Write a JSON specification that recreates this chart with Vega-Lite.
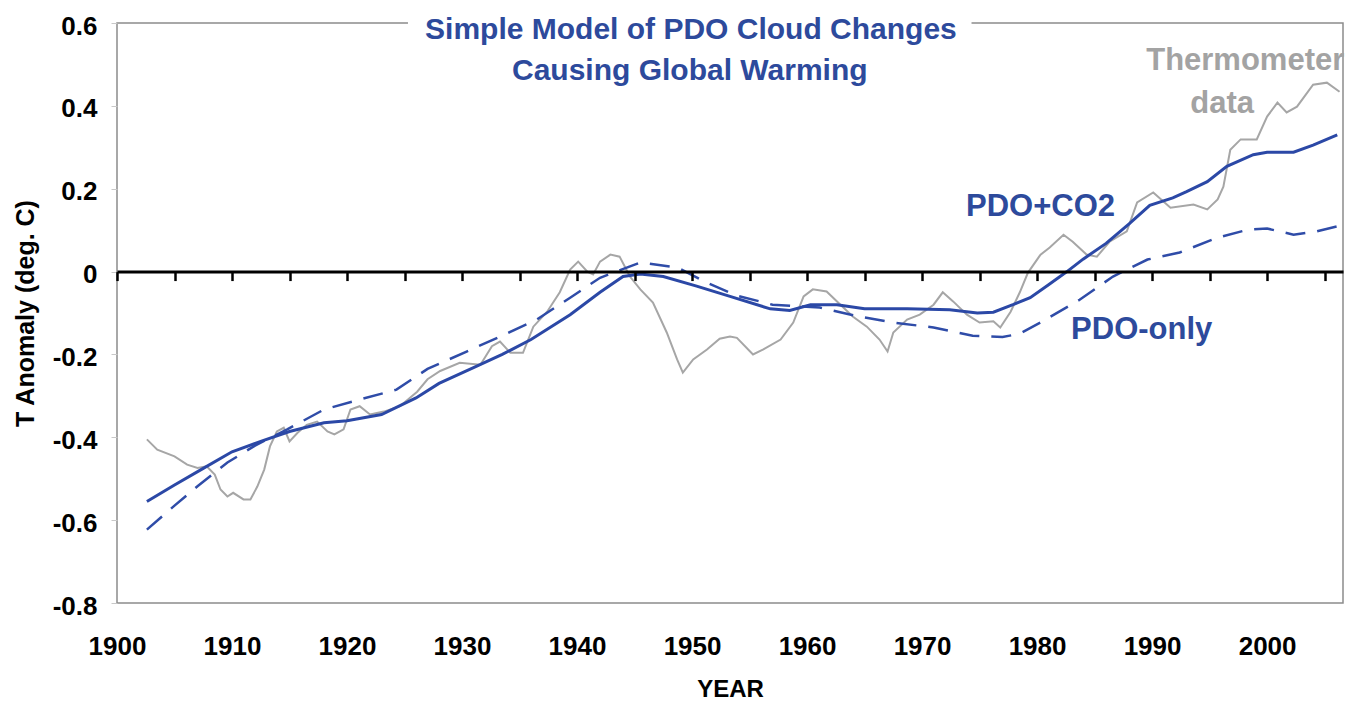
{
  "$schema": "https://vega.github.io/schema/vega-lite/v6.json",
  "width": 1226,
  "height": 580,
  "autosize": {"type": "none"},
  "padding": {"left": 117, "top": 23, "right": 12, "bottom": 103},
  "background": "white",
  "config": {"view": {"stroke": "#8c8c8c", "strokeWidth": 1.5}, "font": "Liberation Sans"},
  "datasets": {
    "thermo": [
      {"year": 1902.6, "t": -0.405}, {"year": 1903.5, "t": -0.43}, {"year": 1905, "t": -0.446}, {"year": 1906.1, "t": -0.466},
      {"year": 1907, "t": -0.474}, {"year": 1907.8, "t": -0.47}, {"year": 1908.5, "t": -0.49}, {"year": 1909, "t": -0.526},
      {"year": 1909.6, "t": -0.543}, {"year": 1910.1, "t": -0.534}, {"year": 1911, "t": -0.55}, {"year": 1911.6, "t": -0.55},
      {"year": 1912.2, "t": -0.519}, {"year": 1912.8, "t": -0.478}, {"year": 1913.3, "t": -0.422}, {"year": 1913.9, "t": -0.386},
      {"year": 1914.5, "t": -0.377}, {"year": 1915, "t": -0.41}, {"year": 1915.7, "t": -0.389}, {"year": 1916.5, "t": -0.37},
      {"year": 1917.4, "t": -0.362}, {"year": 1918.3, "t": -0.386}, {"year": 1918.9, "t": -0.393}, {"year": 1919.7, "t": -0.381},
      {"year": 1920.3, "t": -0.333}, {"year": 1921.1, "t": -0.325}, {"year": 1922, "t": -0.345}, {"year": 1923.2, "t": -0.338},
      {"year": 1924.6, "t": -0.325}, {"year": 1926.1, "t": -0.29}, {"year": 1927, "t": -0.26}, {"year": 1928.1, "t": -0.24},
      {"year": 1929.8, "t": -0.22}, {"year": 1931.6, "t": -0.225}, {"year": 1932.6, "t": -0.18}, {"year": 1933.3, "t": -0.169},
      {"year": 1934.2, "t": -0.196}, {"year": 1935.3, "t": -0.196}, {"year": 1936.2, "t": -0.133}, {"year": 1937.4, "t": -0.097},
      {"year": 1938.5, "t": -0.05}, {"year": 1939.4, "t": 0.005}, {"year": 1940.1, "t": 0.024}, {"year": 1940.9, "t": 0.0},
      {"year": 1941.4, "t": -0.007}, {"year": 1942, "t": 0.024}, {"year": 1942.9, "t": 0.041}, {"year": 1943.7, "t": 0.036},
      {"year": 1944.6, "t": -0.012}, {"year": 1945.5, "t": -0.043}, {"year": 1946.6, "t": -0.075}, {"year": 1947.8, "t": -0.147},
      {"year": 1948.7, "t": -0.212}, {"year": 1949.2, "t": -0.244}, {"year": 1950.1, "t": -0.212}, {"year": 1951.3, "t": -0.188},
      {"year": 1952.4, "t": -0.162}, {"year": 1953.3, "t": -0.157}, {"year": 1953.9, "t": -0.16}, {"year": 1955.3, "t": -0.2},
      {"year": 1956.2, "t": -0.188}, {"year": 1957.7, "t": -0.164}, {"year": 1958.8, "t": -0.123}, {"year": 1959.7, "t": -0.06},
      {"year": 1960.5, "t": -0.043}, {"year": 1961.7, "t": -0.048}, {"year": 1962.9, "t": -0.08}, {"year": 1964, "t": -0.109},
      {"year": 1965.2, "t": -0.133}, {"year": 1966.3, "t": -0.164}, {"year": 1967, "t": -0.193}, {"year": 1967.5, "t": -0.147},
      {"year": 1968.7, "t": -0.116}, {"year": 1969.8, "t": -0.104}, {"year": 1971, "t": -0.08}, {"year": 1971.8, "t": -0.05},
      {"year": 1972.7, "t": -0.072}, {"year": 1973.9, "t": -0.104}, {"year": 1975, "t": -0.123}, {"year": 1976.2, "t": -0.12},
      {"year": 1976.8, "t": -0.135}, {"year": 1977.7, "t": -0.097}, {"year": 1978.5, "t": -0.05}, {"year": 1979.2, "t": -0.003},
      {"year": 1980.3, "t": 0.041}, {"year": 1981.1, "t": 0.058}, {"year": 1982.3, "t": 0.089}, {"year": 1983.1, "t": 0.072},
      {"year": 1984.3, "t": 0.041}, {"year": 1985.2, "t": 0.036}, {"year": 1986.3, "t": 0.072}, {"year": 1987.8, "t": 0.097},
      {"year": 1988.7, "t": 0.167}, {"year": 1990.1, "t": 0.191}, {"year": 1991.6, "t": 0.154}, {"year": 1993.6, "t": 0.162},
      {"year": 1994.8, "t": 0.15}, {"year": 1995.7, "t": 0.174}, {"year": 1996.2, "t": 0.205}, {"year": 1996.8, "t": 0.294},
      {"year": 1997.7, "t": 0.319}, {"year": 1999.1, "t": 0.319}, {"year": 2000, "t": 0.374}, {"year": 2000.9, "t": 0.408},
      {"year": 2001.7, "t": 0.384}, {"year": 2002.6, "t": 0.398}, {"year": 2004, "t": 0.451}, {"year": 2005.2, "t": 0.456},
      {"year": 2006.3, "t": 0.434}
    ],
    "pdo": [
      {"year": 1902.6, "t": -0.623}, {"year": 1905, "t": -0.565}, {"year": 1907, "t": -0.518}, {"year": 1909.6, "t": -0.461},
      {"year": 1912, "t": -0.42}, {"year": 1914.8, "t": -0.381}, {"year": 1918, "t": -0.333}, {"year": 1921.1, "t": -0.309},
      {"year": 1924.3, "t": -0.285}, {"year": 1927, "t": -0.235}, {"year": 1930.4, "t": -0.193}, {"year": 1933.3, "t": -0.157},
      {"year": 1936.5, "t": -0.116}, {"year": 1939.4, "t": -0.063}, {"year": 1942, "t": -0.015}, {"year": 1945.5, "t": 0.022},
      {"year": 1948.7, "t": 0.01}, {"year": 1951.3, "t": -0.027}, {"year": 1953.9, "t": -0.058}, {"year": 1957, "t": -0.08},
      {"year": 1961.1, "t": -0.087}, {"year": 1964.6, "t": -0.109}, {"year": 1967.5, "t": -0.123}, {"year": 1971, "t": -0.135},
      {"year": 1974.4, "t": -0.155}, {"year": 1977, "t": -0.158}, {"year": 1978.5, "t": -0.15}, {"year": 1980.3, "t": -0.123},
      {"year": 1983.7, "t": -0.068}, {"year": 1986.6, "t": -0.012}, {"year": 1989.6, "t": 0.029}, {"year": 1992.4, "t": 0.046},
      {"year": 1995.7, "t": 0.082}, {"year": 1998.3, "t": 0.101}, {"year": 2000, "t": 0.104}, {"year": 2002.3, "t": 0.089},
      {"year": 2004.3, "t": 0.097}, {"year": 2006.1, "t": 0.109}
    ],
    "co2": [
      {"year": 1902.6, "t": -0.555}, {"year": 1905, "t": -0.515}, {"year": 1907.5, "t": -0.475}, {"year": 1910, "t": -0.435},
      {"year": 1912.5, "t": -0.41}, {"year": 1915, "t": -0.386}, {"year": 1918, "t": -0.365}, {"year": 1920, "t": -0.36},
      {"year": 1923, "t": -0.345}, {"year": 1926, "t": -0.305}, {"year": 1928, "t": -0.27}, {"year": 1931, "t": -0.232},
      {"year": 1933.5, "t": -0.2}, {"year": 1936, "t": -0.164}, {"year": 1939.4, "t": -0.104}, {"year": 1942, "t": -0.05},
      {"year": 1944, "t": -0.012}, {"year": 1945.5, "t": -0.006}, {"year": 1947.5, "t": -0.012}, {"year": 1950.4, "t": -0.035},
      {"year": 1953.3, "t": -0.06}, {"year": 1956.8, "t": -0.09}, {"year": 1958.5, "t": -0.094}, {"year": 1960.3, "t": -0.08},
      {"year": 1962.6, "t": -0.08}, {"year": 1965, "t": -0.09}, {"year": 1968.7, "t": -0.09}, {"year": 1972.4, "t": -0.092},
      {"year": 1974.8, "t": -0.1}, {"year": 1976.2, "t": -0.098}, {"year": 1977.9, "t": -0.08}, {"year": 1979.4, "t": -0.063},
      {"year": 1981, "t": -0.032}, {"year": 1982.6, "t": 0.0}, {"year": 1984, "t": 0.03}, {"year": 1986, "t": 0.068},
      {"year": 1988, "t": 0.115}, {"year": 1989.8, "t": 0.16}, {"year": 1991.8, "t": 0.178}, {"year": 1993, "t": 0.193},
      {"year": 1994.8, "t": 0.217}, {"year": 1996.5, "t": 0.254}, {"year": 1998.8, "t": 0.282}, {"year": 2000, "t": 0.288},
      {"year": 2002.3, "t": 0.288}, {"year": 2004, "t": 0.305}, {"year": 2006.1, "t": 0.33}
    ]
  },
  "resolve": {"axis": {"x": "independent", "y": "independent"}},
  "layer": [
    {
      "data": {"values": [{}]},
      "mark": {"type": "rect", "fill": "white", "stroke": null},
      "encoding": {
        "x": {"datum": 1925.3, "type": "quantitative", "scale": {"domain": [1900, 2006.6], "nice": false, "zero": false}, "axis": null},
        "x2": {"datum": 1974.3},
        "y": {"datum": 0.65, "type": "quantitative", "scale": {"domain": [-0.8, 0.6], "nice": false, "zero": false}, "axis": null},
        "y2": {"datum": 0.45}
      }
    },
    {
      "data": {"name": "thermo"},
      "mark": {"type": "line", "color": "#a6a6a6", "strokeWidth": 2},
      "encoding": {
        "x": {
          "field": "year", "type": "quantitative",
          "scale": {"domain": [1900, 2006.6], "nice": false, "zero": false},
          "axis": {
            "orient": "bottom", "values": [1900, 1910, 1920, 1930, 1940, 1950, 1960, 1970, 1980, 1990, 2000],
            "format": "d", "labelFontSize": 26, "labelFontWeight": "bold", "labelColor": "black", "labelFont": "Liberation Sans",
            "labelFlush": false, "labelOverlap": false,
            "ticks": false, "tickSize": 0, "domain": false, "grid": false, "labelPadding": 30,
            "title": "YEAR", "titleFontSize": 24, "titleFontWeight": "bold", "titleColor": "black", "titleFont": "Liberation Sans", "titlePadding": 18
          }
        },
        "y": {
          "field": "t", "type": "quantitative",
          "scale": {"domain": [-0.8, 0.6], "nice": false, "zero": false},
          "axis": {
            "values": [-0.8, -0.6, -0.4, -0.2, 0, 0.2, 0.4, 0.6],
            "labelExpr": "datum.value == 0 ? '0' : (datum.value < 0 ? '-' : '') + format(abs(datum.value), '.1f')",
            "labelFontSize": 26, "labelFontWeight": "bold", "labelColor": "black", "labelFont": "Liberation Sans",
            "labelFlush": false, "labelOverlap": false,
            "tickSize": 6, "tickColor": "#c8c8c8", "domain": false, "grid": false, "labelPadding": 14, "labelOffset": 3,
            "title": "T Anomaly (deg. C)", "titleFontSize": 25, "titleFontWeight": "bold", "titleColor": "black", "titleFont": "Liberation Sans", "titlePadding": 14
          }
        }
      }
    },
    {
      "data": {"name": "pdo"},
      "mark": {"type": "line", "color": "#2f4ca8", "strokeWidth": 2.5, "strokeDash": [20, 12]},
      "encoding": {
        "x": {
          "field": "year", "type": "quantitative",
          "scale": {"domain": [1900, 2006.6], "nice": false, "zero": false},
          "axis": {
            "orient": "bottom", "offset": -331.43,
            "values": [1900, 1905, 1910, 1915, 1920, 1925, 1930, 1935, 1940, 1945, 1950, 1955, 1960, 1965, 1970, 1975, 1980, 1985, 1990, 1995, 2000, 2005],
            "labels": false, "title": null, "domain": true, "domainColor": "black", "domainWidth": 3,
            "ticks": true, "tickColor": "black", "tickWidth": 2.5, "tickSize": 9, "grid": false, "zindex": 1
          }
        },
        "y": {"field": "t", "type": "quantitative", "scale": {"domain": [-0.8, 0.6], "nice": false, "zero": false}, "axis": null}
      }
    },
    {
      "data": {"name": "co2"},
      "mark": {"type": "line", "color": "#2b48a6", "strokeWidth": 3},
      "encoding": {
        "x": {"field": "year", "type": "quantitative", "scale": {"domain": [1900, 2006.6], "nice": false, "zero": false}, "axis": null},
        "y": {"field": "t", "type": "quantitative", "scale": {"domain": [-0.8, 0.6], "nice": false, "zero": false}, "axis": null}
      }
    },
    {
      "data": {"values": [{}]},
      "mark": {"type": "text", "text": "Simple Model of PDO Cloud Changes", "font": "Liberation Sans", "fontSize": 30, "fontWeight": "bold", "color": "#2d4a9c", "align": "center", "baseline": "middle"},
      "encoding": {
        "x": {"datum": 1949.9, "type": "quantitative", "axis": null},
        "y": {"datum": 0.582, "type": "quantitative", "axis": null}
      }
    },
    {
      "data": {"values": [{}]},
      "mark": {"type": "text", "text": "Causing Global Warming", "font": "Liberation Sans", "fontSize": 30, "fontWeight": "bold", "color": "#2d4a9c", "align": "center", "baseline": "middle"},
      "encoding": {
        "x": {"datum": 1949.8, "type": "quantitative", "axis": null},
        "y": {"datum": 0.485, "type": "quantitative", "axis": null}
      }
    },
    {
      "data": {"values": [{}]},
      "mark": {"type": "text", "text": "Thermometer", "font": "Liberation Sans", "fontSize": 31, "fontWeight": "bold", "color": "#a3a3a3", "align": "center", "baseline": "middle"},
      "encoding": {
        "x": {"datum": 1998.1, "type": "quantitative", "axis": null},
        "y": {"datum": 0.508, "type": "quantitative", "axis": null}
      }
    },
    {
      "data": {"values": [{}]},
      "mark": {"type": "text", "text": "data", "font": "Liberation Sans", "fontSize": 31, "fontWeight": "bold", "color": "#a3a3a3", "align": "center", "baseline": "middle"},
      "encoding": {
        "x": {"datum": 1996.1, "type": "quantitative", "axis": null},
        "y": {"datum": 0.404, "type": "quantitative", "axis": null}
      }
    },
    {
      "data": {"values": [{}]},
      "mark": {"type": "text", "text": "PDO+CO2", "font": "Liberation Sans", "fontSize": 31, "fontWeight": "bold", "color": "#2d4a9c", "align": "center", "baseline": "middle"},
      "encoding": {
        "x": {"datum": 1980.3, "type": "quantitative", "axis": null},
        "y": {"datum": 0.155, "type": "quantitative", "axis": null}
      }
    },
    {
      "data": {"values": [{}]},
      "mark": {"type": "text", "text": "PDO-only", "font": "Liberation Sans", "fontSize": 31, "fontWeight": "bold", "color": "#2d4a9c", "align": "center", "baseline": "middle"},
      "encoding": {
        "x": {"datum": 1989.1, "type": "quantitative", "axis": null},
        "y": {"datum": -0.14, "type": "quantitative", "axis": null}
      }
    }
  ]
}
